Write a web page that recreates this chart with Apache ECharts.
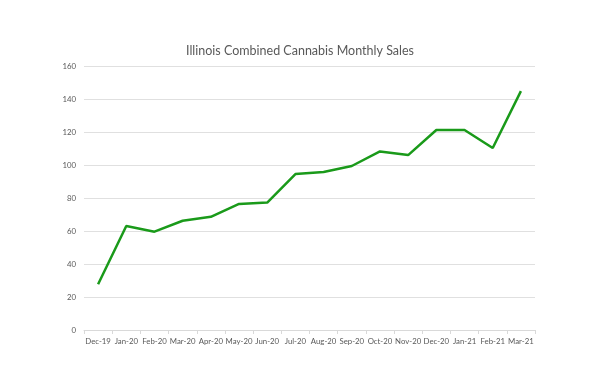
<!DOCTYPE html>
<html><head><meta charset="utf-8">
<script src="https://cdn.jsdelivr.net/npm/echarts@6/dist/echarts.min.js"></script>
<style>html,body{margin:0;padding:0;background:#fff}#c{width:600px;height:389px}</style>
</head><body><div id="c"></div>
<script>
const categories = ['Dec-19','Jan-20','Feb-20','Mar-20','Apr-20','May-20','Jun-20','Jul-20','Aug-20','Sep-20','Oct-20','Nov-20','Dec-20','Jan-21','Feb-21','Mar-21'];
const sales = [27.7, 63.0, 59.6, 66.2, 68.6, 76.4, 77.2, 94.5, 95.8, 99.4, 108.2, 106.0, 121.2, 121.2, 110.3, 144.8];
const yTicks = [0, 20, 40, 60, 80, 100, 120, 140, 160];
const titleText = 'Illinois Combined Cannabis Monthly Sales';

const chart = echarts.init(document.getElementById('c'), null, {renderer:'canvas'});
chart.setOption({
  animation: false,
  backgroundColor: '#fff',
  title: {
    text: titleText, left: 'center', top: 39,
    textStyle: {fontFamily: 'Lato', fontSize: 12.5, fontWeight: 'normal', color: '#595959'}
  },
  grid: {left: 84, right: 65, top: 66, bottom: 59, containLabel: false},
  xAxis: {
    type: 'category', data: categories, boundaryGap: true,
    axisLine: {lineStyle: {color: '#d9d9d9', width: 1}},
    axisTick: {show: true, length: 4, lineStyle: {color: '#d9d9d9'}},
    axisLabel: {color: '#595959', fontFamily: 'Lato', fontSize: 7.8, margin: 7, interval: 0}
  },
  yAxis: {
    type: 'value', min: yTicks[0], max: yTicks[yTicks.length-1], interval: 20,
    axisLine: {show: false}, axisTick: {show: false},
    splitLine: {lineStyle: {color: '#e0e0e0', width: 1}},
    axisLabel: {color: '#595959', fontFamily: 'Lato', fontSize: 7.8, margin: 8}
  },
  series: [{
    type: 'line', data: sales, symbol: 'none',
    lineStyle: {color: '#1a9a1a', width: 2.5},
    itemStyle: {color: '#1a9a1a'}
  }]
});
</script></body></html>
